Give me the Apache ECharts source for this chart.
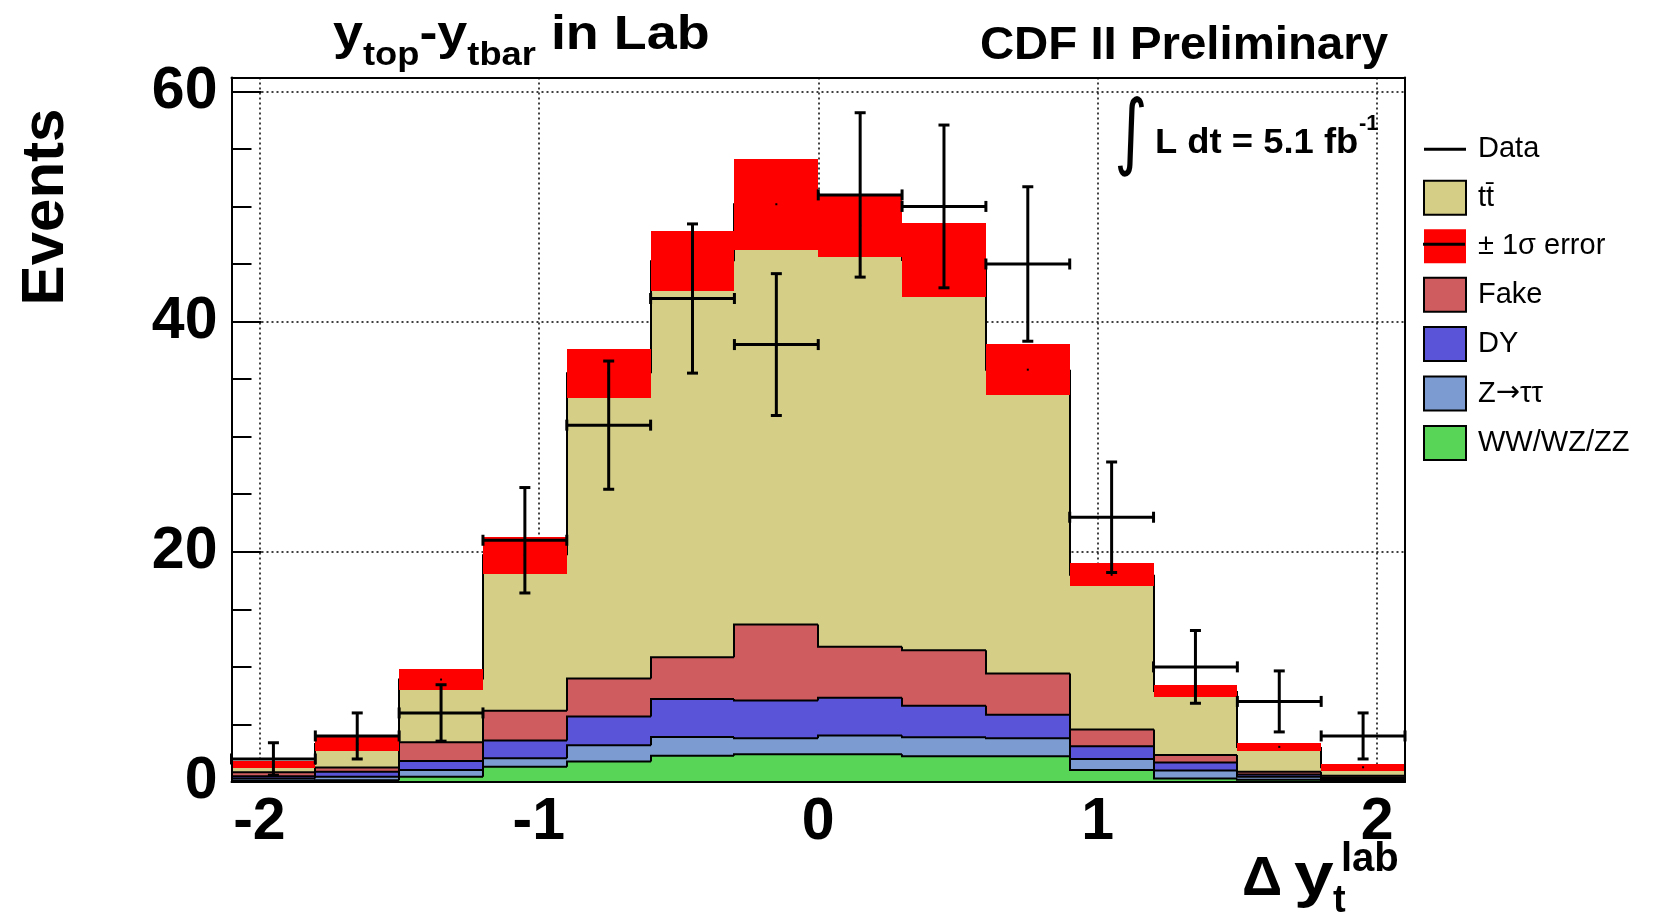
<!DOCTYPE html>
<html><head><meta charset="utf-8">
<script src="https://cdn.jsdelivr.net/npm/echarts@6/dist/echarts.min.js"></script>
<style>html,body{margin:0;padding:0;background:#fff}#c{width:1659px;height:918px}</style>
</head><body><div id="c"></div>
<script>
// ---- data ----
const binEdges = [-2.1,-1.8,-1.5,-1.2,-0.9,-0.6,-0.3,0,0.3,0.6,0.9,1.2,1.5,1.8,2.1];
const wwVals   = [0.1,0.15,0.46,1.33,1.77,2.29,2.41,2.41,2.23,2.23,1.05,0.3,0.2,0.1];
const zttVals  = [0.2,0.3,0.59,0.73,1.43,1.63,1.39,1.63,1.66,1.57,0.95,0.7,0.25,0.15];
const dyVals   = [0.2,0.45,0.78,1.54,2.5,3.28,3.29,3.28,2.73,2.04,1.1,0.7,0.2,0.15];
const fakeVals = [0.35,0.35,1.62,2.59,3.3,3.64,6.6,4.42,4.83,3.58,1.45,0.65,0.25,0.15];
const ttVals   = [0.65,2.05,5.45,13.5,26.5,34.4,36.5,36.6,33.9,26.4,13.45,5.55,2.15,0.73];
const errVals  = [0.32,0.58,0.92,1.6,2.14,2.6,3.95,2.7,3.2,2.2,1.0,0.52,0.32,0.29];
const dataVals = [2,4,6,21,31,42,38,51,50,45,23,10,7,4];
const dataErr  = [1.41,2,2.45,4.58,5.57,6.48,6.16,7.14,7.07,6.71,4.8,3.16,2.65,2];
const xTickLabels = ['-2','-1','0','1','2'];
const yTickLabels = ['0','20','40','60'];

const layerNames  = ['WW/WZ/ZZ','Z\u2192\u03c4\u03c4','DY','Fake','tt\u0304'];
const layerVals   = [wwVals, zttVals, dyVals, fakeVals, ttVals];
const layerColors = ['#58d557','#7c9bd1','#5a55d8','#cf5d5f','#d4ce87'];
const errColor = '#ff0000';

// cumulative stack boundaries
const nBins = binEdges.length - 1;
const cum = [new Array(nBins).fill(0)];
layerVals.forEach((v,k)=>{ cum.push(cum[k].map((c,i)=>c+v[i])); });
const totals = cum[cum.length-1];
const centers = binEdges.slice(0,-1).map((lo,i)=>(lo+binEdges[i+1])/2);

function rectFrom(p0, p1){
  const x0 = Math.round(p0[0]), x1 = Math.round(p1[0]);
  const y0 = Math.round(p0[1]), y1 = Math.round(p1[1]);
  return {x:x0, y:y0, width:x1-x0, height:y1-y0};
}

function layerSeries(k){
  return {
    type:'custom', name:layerNames[k], z:2, silent:true,
    data: centers.map((c,i)=>[c, cum[k+1][i]]),
    encode:{x:0,y:1},
    renderItem:function(params, api){
      const i = params.dataIndex;
      const p0 = api.coord([binEdges[i], cum[k+1][i]]);
      const p1 = api.coord([binEdges[i+1], cum[k][i]]);
      return {type:'rect', shape:rectFrom(p0,p1), style:{fill:layerColors[k]}};
    }
  };
}

const outlineSeries = {
  type:'custom', name:'outlines', z:3, silent:true,
  data: centers.map((c,i)=>[c, totals[i]]), encode:{x:0,y:1},
  renderItem:function(params, api){
    const i = params.dataIndex;
    const children = [];
    for (let k=1;k<cum.length;k++){
      const pts = [];
      if (i>0) pts.push(api.coord([binEdges[i], cum[k][i-1]]));
      pts.push(api.coord([binEdges[i], cum[k][i]]));
      pts.push(api.coord([binEdges[i+1], cum[k][i]]));
      children.push({type:'polyline', shape:{points:pts.map(p=>[Math.round(p[0]), p[1]])}, style:{stroke:'#000', lineWidth:2, fill:null}});
    }
    return {type:'group', children};
  }
};

const errSeries = {
  type:'custom', name:'\u00b1 1\u03c3 error', z:4, silent:true,
  data: centers.map((c,i)=>[c, totals[i]]), encode:{x:0,y:1},
  renderItem:function(params, api){
    const i = params.dataIndex;
    const p0 = api.coord([binEdges[i], totals[i]+errVals[i]]);
    const p1 = api.coord([binEdges[i+1], totals[i]-errVals[i]]);
    const pc = api.coord([centers[i], totals[i]]);
    return {type:'group', children:[
      {type:'rect', shape:rectFrom(p0,p1), style:{fill:errColor}},
      {type:'rect', shape:{x:pc[0]-1, y:pc[1]-1, width:2, height:2}, style:{fill:'#000'}}
    ]};
  }
};

const dataSeries = {
  type:'custom', name:'Data', z:5, silent:true,
  data: centers.map((c,i)=>[c, dataVals[i]]), encode:{x:0,y:1},
  renderItem:function(params, api){
    const i = params.dataIndex;
    const pl = api.coord([binEdges[i], dataVals[i]]);
    const pr = api.coord([binEdges[i+1], dataVals[i]]);
    const pt = api.coord([centers[i], dataVals[i]+dataErr[i]]);
    const pb = api.coord([centers[i], dataVals[i]-dataErr[i]]);
    const st = {stroke:'#000', lineWidth:3};
    const cap = 5.5;
    const L = (x1,y1,x2,y2)=>({type:'line', shape:{x1,y1,x2,y2}, style:st});
    return {type:'group', children:[
      L(pl[0],pl[1],pr[0],pr[1]),
      L(pt[0],pt[1],pb[0],pb[1]),
      L(pt[0]-cap,pt[1],pt[0]+cap,pt[1]),
      L(pb[0]-cap,pb[1],pb[0]+cap,pb[1]),
      L(pl[0],pl[1]-cap,pl[0],pl[1]+cap),
      L(pr[0],pr[1]-cap,pr[0],pr[1]+cap)
    ]};
  }
};

// ---- text helpers ----
const FONT = '"Liberation Sans", Arial, sans-serif';
const mctx = document.createElement('canvas').getContext('2d');
function tw(t, size, weight){ mctx.font = (weight||'bold')+' '+size+'px '+FONT; return mctx.measureText(t).width; }
function txt(t, x, baseline, size, opts){
  opts = opts||{};
  const w = opts.weight||'bold';
  return {type:'text', x:x, y:baseline - 0.33*size, scaleX:opts.sx||1, scaleY:opts.sy||1, rotation:opts.rot||0, z:20,
    style:{text:t, font:w+' '+size+'px '+(opts.family||FONT), fill:'#000',
      align:opts.align||'left', textAlign:opts.align||'left', verticalAlign:'middle', textVerticalAlign:'middle'}};
}
function seq(parts, x0, sx){
  const out = []; let x = x0;
  parts.forEach(p=>{ out.push(txt(p[0], x, p[2], p[1], {sx:sx})); x += tw(p[0], p[1])*sx; });
  return out;
}

const graphics = [];
// title
seq([['y',49,52],['top',33,67],['-y',49,52],['tbar',33,67],[' in Lab',49,52]], 333, 1.1).forEach(g=>graphics.push(g));
// CDF II Preliminary
graphics.push(txt('CDF II Preliminary', 1388, 61, 46, {align:'right', sx:1.03}));
// luminosity
graphics.push({type:'text', x:1131, y:137, scaleY:1.3, z:20,
  style:{text:'\u222b', font:'normal 64px "DejaVu Sans"', fill:'#000', align:'center', textAlign:'center', verticalAlign:'middle', textVerticalAlign:'middle'}});
graphics.push(txt('L dt = 5.1 fb', 1155, 155, 35, {sx:1.04}));
graphics.push(txt('-1', 1359, 131, 22));
// Events
graphics.push({type:'text', x:46, y:207, rotation:Math.PI/2, z:20,
  style:{text:'Events', font:'bold 60px '+FONT, fill:'#000', align:'center', textAlign:'center', verticalAlign:'middle', textVerticalAlign:'middle'}});
// x title
graphics.push(txt('\u0394', 1242, 898, 56));
graphics.push(txt('y', 1294, 898, 62, {sx:1.15}));
graphics.push(txt('t', 1333, 914, 38));
graphics.push(txt('lab', 1341, 873, 40));
// black line over the error legend icon
graphics.push({type:'line', z:30, shape:{x1:1423,y1:244.3,x2:1465,y2:244.3}, style:{stroke:'#000', lineWidth:3}});

const gridLine = {show:true, lineStyle:{color:'#000', width:1.5, type:[2,3]}};
const xBase = {min:-2.1, max:2.1, type:'value', gridIndex:0, splitNumber:5};
const yBase = {min:0, max:61.2, type:'value', gridIndex:0};
const frameLine = {show:true, onZero:false, lineStyle:{color:'#000', width:2}};
const noLine = {show:false, onZero:false};

const option = {
  animation:false,
  backgroundColor:'#fff',
  grid:{left:231.5, right:254, top:77.5, bottom:136, show:false},
  xAxis:[
    Object.assign({}, xBase, {position:'bottom', z:10,
      axisLine:frameLine, axisTick:{show:false},
      axisLabel:{show:true, showMinLabel:false, showMaxLabel:false, margin:11, color:'#000', fontSize:59, fontWeight:'bold', fontFamily:FONT,
        formatter:v=>xTickLabels[[-2,-1,0,1,2].indexOf(Math.round(v*10)/10)] ?? ''},
      splitLine:{show:false}}),
    Object.assign({}, xBase, {position:'top', z:10,
      axisLine:frameLine, axisTick:{show:false}, axisLabel:{show:false}, splitLine:{show:false}}),
    Object.assign({}, xBase, {position:'bottom', z:0,
      axisLine:noLine, axisTick:{show:false}, axisLabel:{show:false}, splitLine:gridLine})
  ],
  yAxis:[
    Object.assign({}, yBase, {position:'left', z:10, splitNumber:3,
      axisLine:frameLine,
      axisTick:{show:true, inside:true, length:30, lineStyle:{color:'#000', width:2}},
      axisLabel:{show:true, showMaxLabel:false, margin:14, color:'#000', fontSize:59, fontWeight:'bold', fontFamily:FONT,
        formatter:v=>yTickLabels[[0,20,40,60].indexOf(Math.round(v))] ?? ''},
      splitLine:{show:false}}),
    Object.assign({}, yBase, {position:'right', z:10,
      axisLine:frameLine, axisTick:{show:false}, axisLabel:{show:false}, splitLine:{show:false}}),
    Object.assign({}, yBase, {position:'left', z:10, splitNumber:12,
      axisLine:noLine, axisTick:{show:true, inside:true, length:20, lineStyle:{color:'#000', width:2}},
      axisLabel:{show:false}, splitLine:{show:false}}),
    Object.assign({}, yBase, {position:'left', z:0, splitNumber:3,
      axisLine:noLine, axisTick:{show:false}, axisLabel:{show:false}, splitLine:gridLine})
  ],
  legend:{
    orient:'vertical', left:1423, top:132.3, padding:0, itemWidth:42, itemHeight:34, itemGap:13.45,
    selectedMode:false,
    formatter:function(name){
      if (name === layerNames[1]) return '{a|Z}{b|\u2192}{a|\u03c4\u03c4}';
      return name;
    },
    textStyle:{fontSize:29, fontFamily:FONT, color:'#000', lineHeight:34, padding:[0,0,0,7],
      rich:{a:{fontSize:29, fontFamily:FONT, color:'#000', lineHeight:34},
            b:{fontSize:29, fontFamily:'"DejaVu Sans"', color:'#000', lineHeight:34}}},
    data:[
      {name:'Data', icon:'path://M0,0H42V3H0Z', itemStyle:{color:'#000', borderWidth:0}},
      {name:layerNames[4], icon:'rect', itemStyle:{color:layerColors[4], borderColor:'#000', borderWidth:2}},
      {name:'\u00b1 1\u03c3 error', icon:'rect', itemStyle:{color:errColor, borderWidth:0}},
      {name:layerNames[3], icon:'rect', itemStyle:{color:layerColors[3], borderColor:'#000', borderWidth:2}},
      {name:layerNames[2], icon:'rect', itemStyle:{color:layerColors[2], borderColor:'#000', borderWidth:2}},
      {name:layerNames[1], icon:'rect', itemStyle:{color:layerColors[1], borderColor:'#000', borderWidth:2}},
      {name:layerNames[0], icon:'rect', itemStyle:{color:layerColors[0], borderColor:'#000', borderWidth:2}}
    ]
  },
  graphic:{elements:graphics},
  series:[
    layerSeries(0), layerSeries(1), layerSeries(2), layerSeries(3), layerSeries(4),
    outlineSeries, errSeries, dataSeries
  ].map(s=>Object.assign(s,{xAxisIndex:0, yAxisIndex:0}))
};

const chart = echarts.init(document.getElementById('c'), null, {renderer:'canvas'});
chart.setOption(option);
</script>
</body></html>
